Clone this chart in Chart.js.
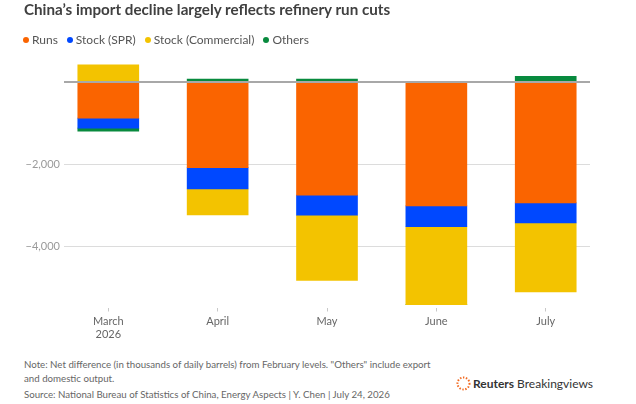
<!DOCTYPE html>
<html>
<head>
<meta charset="utf-8">
<script src="https://cdn.jsdelivr.net/npm/chart.js@4.4.1/dist/chart.umd.min.js"></script>
<style>
  body { margin: 0; width: 636px; height: 404px; background: #fff; font-family: Lato, "Noto Sans", sans-serif; position: relative; overflow: hidden; }
  #title { position: absolute; left: 24px; top: 0px; font-size: 15.2px; font-weight: 700; color: #404040; white-space: nowrap; }
  #legend { position: absolute; left: 23px; top: 32px; font-size: 12px; color: #555; white-space: nowrap; }
  #legend span.item { margin-right: 9px; }
  #legend span.dot { display: inline-block; width: 6px; height: 6px; border-radius: 50%; margin-right: 3px; vertical-align: 1px; }
  #chartbox { position: absolute; left: 0; top: 0; width: 636px; height: 350px; }
  #note { position: absolute; left: 24px; top: 358px; font-size: 9.7px; color: #666; line-height: 13.5px; white-space: nowrap; }
  #note .src { margin-top: 3px; }
  #logo { position: absolute; left: 456px; top: 376px; font-size: 12px; color: #333; white-space: nowrap; }
  #logo svg { vertical-align: -3px; margin-right: 2px; }
</style>
</head>
<body>
<div id="chartbox"><canvas id="myChart"></canvas></div>
<div id="title">China’s import decline largely reflects refinery run cuts</div>
<div id="legend"></div>
<div id="note">
  <div>Note: Net difference (in thousands of daily barrels) from February levels. "Others" include export</div>
  <div>and domestic output.</div>
  <div class="src">Source: National Bureau of Statistics of China, Energy Aspects | Y. Chen | July 24, 2026</div>
</div>
<div id="logo"><svg width="15" height="15" viewBox="0 0 15 15"><circle cx="7.5" cy="7.5" r="6" fill="none" stroke="#f26a21" stroke-width="2" stroke-dasharray="1.4 1.6"/></svg><b>Reuters</b> Breakingviews</div>
<script>
// thousands of daily barrels vs February
const categories = [['March', '2026'], 'April', 'May', 'June', 'July'];
const runs = [-880, -2090, -2760, -3020, -2950];
const stockSPR = [-245, -520, -490, -510, -490];
const stockCommercial = [420, -630, -1590, -1900, -1680];
const others = [-75, 70, 70, 0, 140];
const seriesNames = ['Runs', 'Stock (SPR)', 'Stock (Commercial)', 'Others'];
const colors = ['#fa6400', '#0048ff', '#f3c300', '#088a3e'];
const yTicks = [-4000, -2000, 0];
const yTickLabels = ['−4,000', '−2,000', ''];

const allSeries = [runs, stockSPR, stockCommercial, others];

// legend
const legend = document.getElementById('legend');
legend.innerHTML = seriesNames.map((n, i) =>
  `<span class="item"><span class="dot" style="background:${colors[i]}"></span>${n}</span>`
).join('');

const zeroLine = {
  id: 'zeroLine',
  afterDatasetsDraw(chart) {
    const y = chart.scales.y.getPixelForValue(0);
    const area = chart.chartArea;
    const c = chart.ctx;
    c.save();
    c.strokeStyle = '#a8a8a8';
    c.lineWidth = 2;
    c.beginPath();
    c.moveTo(area.left, y);
    c.lineTo(area.right, y);
    c.stroke();
    c.restore();
  }
};

const ctx = document.getElementById('myChart');

new Chart(ctx, {
  type: 'bar',
  data: {
    datasets: allSeries.map((arr, i) => ({
      label: seriesNames[i],
      data: arr.map((v, j) => ({ x: j, y: v })),
      backgroundColor: colors[i],
      borderWidth: 0,
      barThickness: 61
    }))
  },
  options: {
    responsive: true,
    maintainAspectRatio: false,
    animation: false,
    layout: { padding: { top: 61.5, right: 46, left: 0, bottom: 0 } },
    plugins: { legend: { display: false }, tooltip: { enabled: false } },
    scales: {
      x: {
        type: 'linear',
        stacked: true,
        offset: false,
        min: -0.405,
        max: 4.405,
        afterBuildTicks: (scale) => { scale.ticks = categories.map((c, i) => ({ value: i })); },
        afterFit: (scale) => { scale.height = 42.5; },
        grid: { offset: false, drawOnChartArea: false, drawTicks: true, tickLength: 4, color: '#c8c8c8' },
        border: { display: false },
        ticks: {
          color: '#666',
          font: { family: 'Lato', size: 11 },
          padding: 3,
          maxRotation: 0,
          callback: (v) => categories[v]
        }
      },
      y: {
        stacked: true,
        min: -5500,
        max: 500,
        afterBuildTicks: (scale) => { scale.ticks = yTicks.map(v => ({ value: v })); },
        afterFit: (scale) => { scale.width = 64; },
        grid: {
          drawTicks: false,
          color: (c) => c.tick && c.tick.value === 0 ? 'rgba(0,0,0,0)' : '#dcdcdc',
          lineWidth: 1
        },
        border: { display: false },
        ticks: {
          color: '#9a9a9a',
          font: { family: 'Lato', size: 11 },
          padding: 4,
          callback: (v) => yTickLabels[yTicks.indexOf(v)]
        }
      }
    }
  },
  plugins: [zeroLine]
});
</script>
</body>
</html>
